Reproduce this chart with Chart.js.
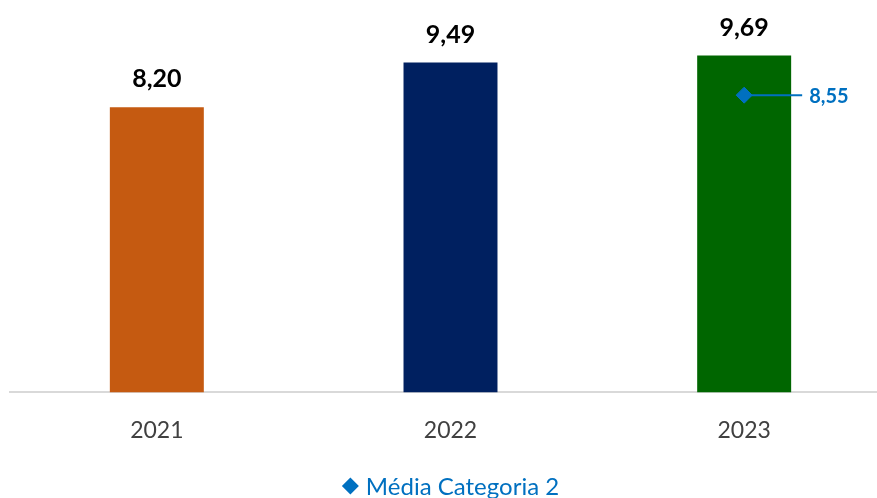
<!DOCTYPE html>
<html>
<head>
<meta charset="utf-8">
<script src="https://cdn.jsdelivr.net/npm/chart.js@4"></script>
<style>
  html, body { margin: 0; padding: 0; background: #fff; overflow: hidden; }
  #wrap { width: 900px; height: 498px; }
</style>
</head>
<body>
<div id="wrap"><canvas id="chart"></canvas></div>
<script>
const years = ['2021', '2022', '2023'];
const scores = [8.20, 9.49, 9.69];
const barColors = ['#C55A11', '#002060', '#006600'];
const average = [null, null, 8.55];
const averageLabel = 'Média Categoria 2';

const fmt = v => v.toFixed(2).replace('.', ',');

// value labels above bars + leader label for the average point
const labelPlugin = {
  id: 'labels',
  afterDatasetsDraw(chart) {
    const ctx = chart.ctx;
    ctx.save();
    ctx.textAlign = 'center';
    ctx.textBaseline = 'middle';
    ctx.font = 'bold 25px Lato';
    ctx.fillStyle = '#000';
    chart.getDatasetMeta(0).data.forEach((bar, i) => {
      ctx.fillText(fmt(scores[i]), bar.x, bar.y - 28);
    });
    chart.getDatasetMeta(1).data.forEach((pt, i) => {
      if (average[i] == null) return;
      ctx.strokeStyle = '#0070C0';
      ctx.lineWidth = 2;
      ctx.beginPath();
      ctx.moveTo(pt.x, pt.y);
      ctx.lineTo(pt.x + 58, pt.y);
      ctx.stroke();
      ctx.textAlign = 'left';
      ctx.font = 'bold 20px Lato';
      ctx.fillStyle = '#0070C0';
      ctx.fillText(fmt(average[i]), pt.x + 65, pt.y + 1);
    });
    ctx.restore();
  }
};

// legend drawn by hand so it sits right at the bottom edge
const legendPlugin = {
  id: 'bottomLegend',
  afterDraw(chart) {
    const ctx = chart.ctx;
    const area = chart.chartArea;
    ctx.save();
    ctx.font = '24px Lato';
    const tw = ctx.measureText(averageLabel).width;
    const total = 17 + 7 + tw;
    const x0 = (area.left + area.right) / 2 - total / 2;
    const y = chart.height - 12;
    ctx.fillStyle = '#0070C0';
    ctx.beginPath();
    ctx.moveTo(x0 + 8.5, y - 8.5);
    ctx.lineTo(x0 + 17, y);
    ctx.lineTo(x0 + 8.5, y + 8.5);
    ctx.lineTo(x0, y);
    ctx.closePath();
    ctx.fill();
    ctx.textAlign = 'left';
    ctx.textBaseline = 'middle';
    ctx.fillText(averageLabel, x0 + 24, y + 1);
    ctx.restore();
  }
};

new Chart(document.getElementById('chart'), {
  data: {
    labels: years,
    datasets: [
      {
        type: 'bar',
        label: 'Nota',
        data: scores,
        backgroundColor: barColors,
        categoryPercentage: 1,
        barPercentage: 0.32,
        order: 2
      },
      {
        type: 'line',
        label: averageLabel,
        data: average,
        showLine: false,
        pointStyle: 'rectRot',
        pointRadius: 8,
        pointHoverRadius: 8,
        backgroundColor: '#0070C0',
        borderColor: '#0070C0',
        order: 1
      }
    ]
  },
  options: {
    responsive: true,
    maintainAspectRatio: false,
    animation: false,
    layout: { padding: { left: 10, top: 10, bottom: 38 } },
    plugins: {
      tooltip: { enabled: false },
      legend: { display: false }
    },
    scales: {
      x: {
        grid: { display: false },
        border: { color: '#D9D9D9', width: 2 },
        ticks: { color: '#404040', font: { family: 'Lato', size: 23 }, padding: 16 }
      },
      y: {
        display: false,
        min: 0,
        max: 11
      }
    }
  },
  plugins: [labelPlugin, legendPlugin]
});
</script>
</body>
</html>
